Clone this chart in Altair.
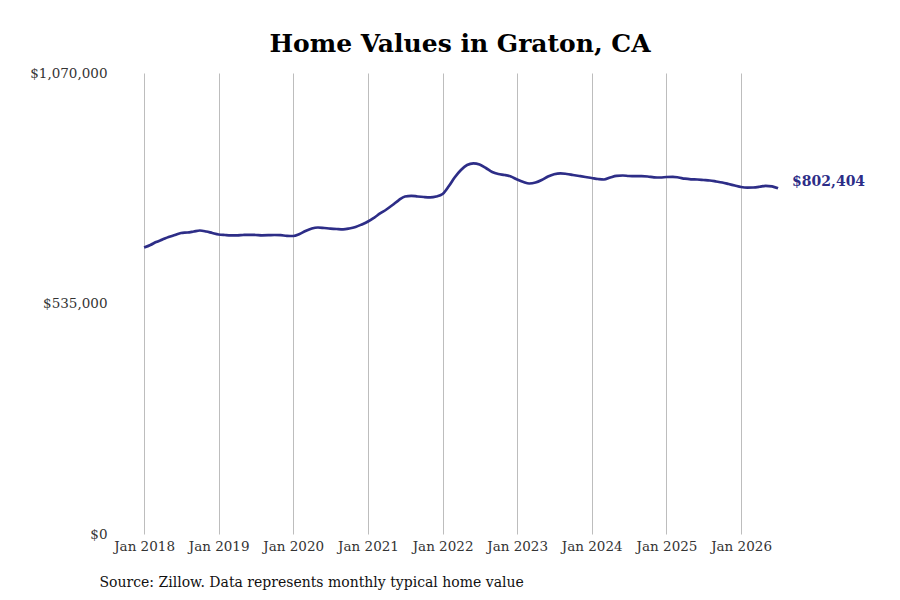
import altair as alt
import pandas as pd

# Monthly typical home value, Graton CA (Jan 2018 - Jul 2026)
start_month = "2018-01-01"
values = [
    665000, 670800, 677700, 683500, 689300, 694000, 698600, 699800, 702100, 704400, 702100, 698600,
    695200, 694000, 693300, 693300, 694000, 694400, 694000, 693300, 693500, 694000, 693500, 692100,
    691700, 696300, 703300, 709100, 711400, 710200, 708900, 707900, 707200, 709100, 712600, 718400,
    725300, 734600, 743900, 753200, 763600, 775200, 783400, 785000, 783400, 782200, 781500, 783400,
    789200, 807700, 827500, 844900, 856500, 860400, 857600, 849500, 840200, 835600, 833300, 829800,
    822800, 817000, 813500, 815800, 821700, 829800, 835100, 837200, 835600, 833300, 830900, 828600,
    826300, 824000, 822800, 827500, 831400, 832100, 830900, 830500, 830500, 829800, 827900, 827500,
    828600, 829100, 827500, 824700, 823300, 822800, 821700, 820500, 818200, 815800, 812400, 808900,
    805400, 804000, 804300, 805900, 808200, 807000, 802404,
]
y_ticks = [0, 535000, 1070000]
tick_years = list(range(2018, 2027))
title_text = "Home Values in Graton, CA"
source_text = "Source: Zillow. Data represents monthly typical home value"
end_label = "$802,404"

dates = pd.date_range(start_month, periods=len(values), freq="MS").strftime("%Y-%m-%d")
df = pd.DataFrame({"date": dates, "value": values})
last_df = df.tail(1).assign(label=end_label)

LINE = "#2d2d87"
FONT = "DejaVu Serif"

x_enc = alt.X(
    "date:T",
    scale=alt.Scale(
        type="utc",
        domain=[alt.DateTime(year=2017, month=7, date=28, utc=True),
                alt.DateTime(year=2027, month=11, date=12, utc=True)],
    ),
    axis=alt.Axis(
        values=[alt.DateTime(year=yr, month=1, date=1, utc=True) for yr in tick_years],
        labelExpr="utcFormat(datum.value, '%b %Y')",
        grid=True,
        gridColor="#bdbdbd",
        gridWidth=1,
        domain=False,
        ticks=False,
        labelFont=FONT,
        labelFontSize=13.5,
        labelColor="#333333",
        labelPadding=5,
        title=source_text,
        titleFont=FONT,
        titleFontSize=14,
        titleFontWeight="normal",
        titleColor="#111111",
        titleAnchor="start",
        titleAlign="left",
        titleBaseline="middle",
        titleX=-13,
        titleY=48,
    ),
)
y_enc = alt.Y(
    "value:Q",
    scale=alt.Scale(domain=[0, 1070000], nice=False, zero=True),
    axis=alt.Axis(
        values=y_ticks,
        format="$,.0f",
        grid=False,
        domain=False,
        ticks=False,
        labelFont=FONT,
        labelFontSize=13.5,
        labelColor="#333333",
        labelPadding=5,
        title=None,
    ),
)

line = alt.Chart(df).mark_line(color=LINE, strokeWidth=2.7, interpolate="monotone").encode(
    x=x_enc, y=y_enc
)
label = alt.Chart(last_df).mark_text(
    align="left", baseline="middle", dx=14, dy=-6, font=FONT, fontSize=14,
    fontWeight="bold", color=LINE,
).encode(x="date:T", y="value:Q", text="label:N")

chart = (
    alt.layer(line, label)
    .properties(
        width=768,
        height=461,
        padding={"left": 104, "top": 65, "right": 4, "bottom": 58},
        autosize=alt.AutoSizeParams(type="none"),
        title=alt.TitleParams(
            title_text, font=FONT, fontSize=25, fontWeight="bold", color="#000000",
            anchor="middle", dx=-36, offset=9,
        ),
    )
    .configure_view(stroke=None)
)

chart.save("out.html", embed_options={"renderer": "svg", "actions": False})
